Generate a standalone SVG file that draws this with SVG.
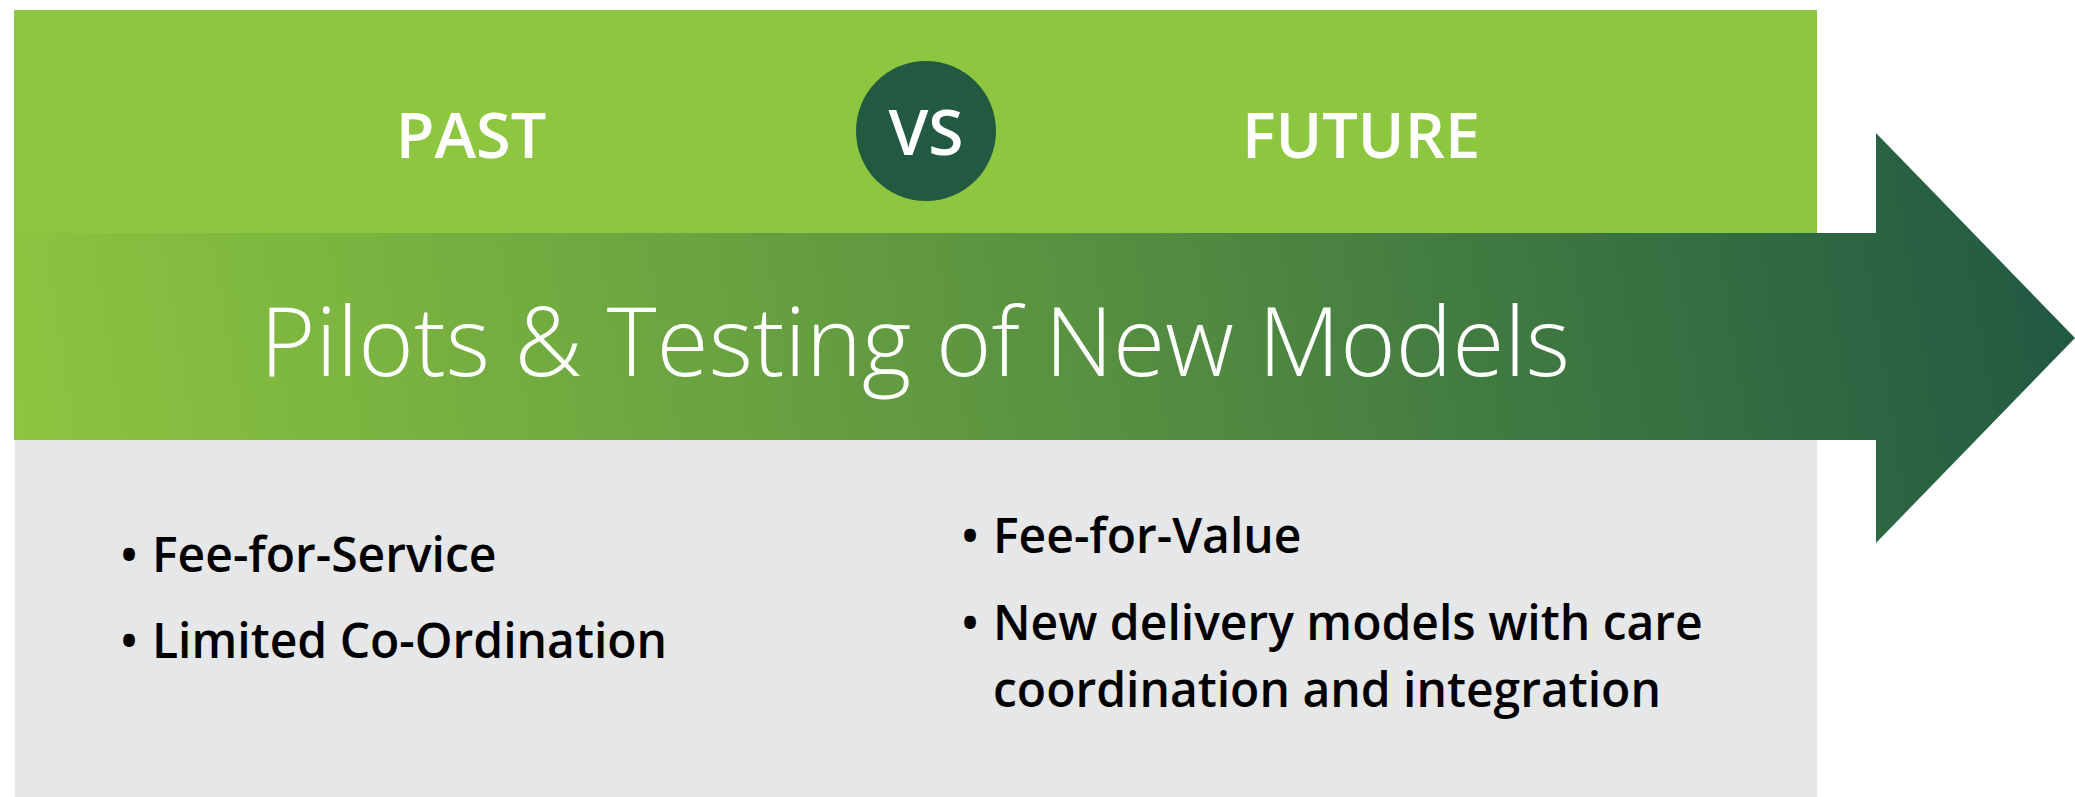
<svg xmlns="http://www.w3.org/2000/svg" width="2075" height="797" viewBox="0 0 2075 797">
  <style>
    .head { font-family: "Open Sans", "Liberation Sans", sans-serif; font-weight: 600; fill: #ffffff; text-anchor: middle; }
    .title { font-family: "Open Sans", "Liberation Sans", sans-serif; font-weight: 300; fill: #ffffff; font-size: 95px; }
    .item { font-family: "Open Sans", "Liberation Sans", sans-serif; font-weight: 600; fill: #000000; font-size: 48px; }
  </style>
  <defs>
    <linearGradient id="arrowGrad" gradientUnits="userSpaceOnUse" x1="14" y1="520" x2="2075" y2="180">
      <stop offset="0" stop-color="#8DC63F"/>
      <stop offset="0.5" stop-color="#5A9340"/>
      <stop offset="1" stop-color="#1F5842"/>
    </linearGradient>
  </defs>
  <rect id="top-band" x="14" y="10" width="1803" height="224" fill="#8DC63F"/>
  <rect id="bottom-panel" x="15" y="440" width="1802" height="357" fill="#E6E7E8"/>
  <g id="arrow">
    <polygon points="14,233 1876,233 1876,133 2075,338 1876,543 1876,440 14,440" fill="url(#arrowGrad)"/>
    <text class="title" x="260" y="376" textLength="1310" lengthAdjust="spacingAndGlyphs">Pilots &amp; Testing of New Models</text>
  </g>
  <g id="past">
    <text class="head" x="471" y="158" font-size="63">PAST</text>
  </g>
  <g id="vs">
    <circle cx="926" cy="131" r="70" fill="#215A41"/>
    <text class="head" x="926" y="155" font-size="64">VS</text>
  </g>
  <g id="future">
    <text class="head" x="1361" y="158" font-size="63">FUTURE</text>
  </g>
  <g id="past-list">
    <text class="item" x="120" y="572">•</text>
    <text class="item" x="152" y="572">Fee-for-Service</text>
    <text class="item" x="120" y="658">•</text>
    <text class="item" x="152" y="658">Limited Co-Ordination</text>
  </g>
  <g id="future-list">
    <text class="item" x="961" y="553">•</text>
    <text class="item" x="993" y="553">Fee-for-Value</text>
    <text class="item" x="961" y="640">•</text>
    <text class="item" x="993" y="640">New delivery models with care</text>
    <text class="item" x="993" y="707">coordination and integration</text>
  </g>
  <g id="connectors"/>
</svg>
